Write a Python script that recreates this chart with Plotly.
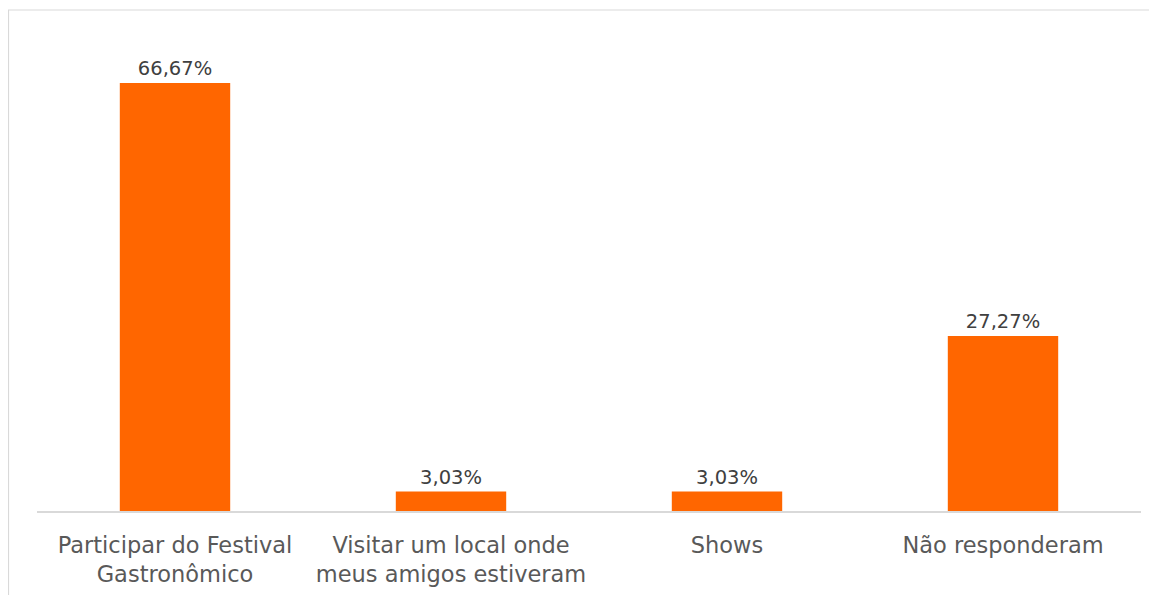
import plotly.graph_objects as go

categories = ["Participar do Festival<br>Gastronômico",
              "Visitar um local onde<br>meus amigos estiveram",
              "Shows",
              "Não responderam"]
values = [66.67, 3.03, 3.03, 27.27]
labels = ["66,67%", "3,03%", "3,03%", "27,27%"]

W, H = 1157, 595
# page is offset by the 8px body margin
ml, mr, mt, mb = 29, 24, 22, 92
pw = W - ml - mr
ph = H - mt - mb
px_per_unit = 6.42

fig = go.Figure(go.Bar(
    x=categories, y=values, text=labels,
    textposition="outside", cliponaxis=False,
    textfont=dict(family="DejaVu Sans", size=19.5, color="#404040"),
    marker=dict(color="#FF6600", line=dict(width=0)),
))

fig.update_layout(
    width=W, height=H,
    margin=dict(l=ml, r=mr, t=mt, b=mb),
    paper_bgcolor="white", plot_bgcolor="white",
    bargap=0.6, showlegend=False,
    xaxis=dict(showline=True, linecolor="#d9d9d9", linewidth=1.5,
               tickfont=dict(family="DejaVu Sans", size=22.5, color="#595959"),
               ticklabelstandoff=13,
               ticks="", showgrid=False, fixedrange=True),
    yaxis=dict(range=[0, ph / px_per_unit], visible=False, showgrid=False),
    shapes=[dict(type="rect", xref="paper", yref="paper",
                 x0=(0.5 - ml) / pw, x1=1.2,
                 y0=-0.3, y1=(H - mb - 2) / ph,
                 line=dict(color="#d9d9d9", width=1.2),
                 fillcolor="rgba(0,0,0,0)", layer="below")],
)

fig.write_html("out.html")
